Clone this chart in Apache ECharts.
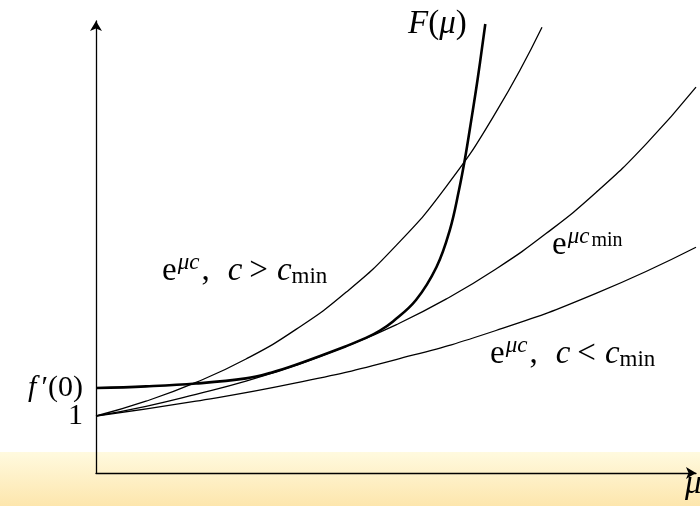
<!DOCTYPE html>
<html>
<head>
<meta charset="utf-8">
<script src="https://cdn.jsdelivr.net/npm/echarts@6/dist/echarts.min.js"></script>
<style>
  html, body { margin: 0; padding: 0; background: #fff; }
  #chart { width: 700px; height: 506px; }
</style>
</head>
<body>
<div id="chart"></div>
<script>
// curves (x = mu, y = value)
const upperX = [0, 0.5, 1, 1.5, 2, 2.5, 3, 3.5, 4, 4.46];
const upperY = [1, 1.26, 1.59, 2.0, 2.52, 3.17, 3.99, 5.02, 6.33, 7.82];
const minX = [0, 0.5, 1, 1.5, 2, 2.5, 3, 3.5, 4, 4.5, 5, 5.5, 6];
const minY = [1, 1.17, 1.38, 1.61, 1.89, 2.22, 2.6, 3.05, 3.58, 4.2, 4.92, 5.77, 6.77];
const lowerX = [0, 1, 2, 3, 4, 5, 6];
const lowerY = [1, 1.26, 1.58, 1.99, 2.5, 3.15, 3.96];
const fX = [0, 0.5, 1, 1.5, 1.75, 2, 2.5, 2.7, 2.84, 2.97, 3.2, 3.405, 3.538, 3.63, 3.691, 3.737, 3.815, 3.893];
const fY = [1.49, 1.52, 1.57, 1.66, 1.76, 1.9, 2.225, 2.37, 2.5, 2.66, 3.035, 3.614, 4.263, 4.965, 5.526, 6.018, 6.895, 7.877];
// y tick labels
const fPrime0 = 1.49;
const oneTick = 1;
const fPrimeLabel = '{i|f}{n|′(0)}';
const oneLabel = '1';

const FONT = "'Liberation Serif', 'DejaVu Serif', serif";

function pairs(xs, ys) {
  return xs.map((x, i) => [x, ys[i]]);
}

const chart = echarts.init(document.getElementById('chart'));

const thin = { color: '#000', width: 1.3 };

const base = { fontFamily: FONT, color: '#000', verticalAlign: 'bottom' };
const mathRich = {
  n: Object.assign({}, base, { fontSize: 33, lineHeight: 38 }),
  i: Object.assign({}, base, { fontSize: 33, lineHeight: 38, fontStyle: 'italic' }),
  op: Object.assign({}, base, { fontSize: 33, lineHeight: 38, padding: [0, 9, 0, 7] }),
  cm: Object.assign({}, base, { fontSize: 33, lineHeight: 38, padding: [0, 18, 0, 0] }),
  sup: Object.assign({}, base, { fontSize: 23, lineHeight: 23, fontStyle: 'italic', padding: [0, 2, 14, 1] }),
  supn: Object.assign({}, base, { fontSize: 20, lineHeight: 20, padding: [0, 0, 11, 0] }),
  sub: Object.assign({}, base, { fontSize: 23, lineHeight: 23 })
};

const tickLabelStyle = {
  hideOverlap: false,
  margin: 13,
  fontFamily: FONT,
  fontSize: 30,
  lineHeight: 24,
  color: '#000',
  rich: {
    i: { fontFamily: FONT, fontSize: 30, lineHeight: 24, fontStyle: 'italic', color: '#000', padding: [0, 5, 0, 0] },
    n: { fontFamily: FONT, fontSize: 30, lineHeight: 24, color: '#000' }
  }
};

chart.setOption({
  animation: false,
  backgroundColor: '#fff',
  grid: { left: 96, right: 4, top: 21, bottom: 33 },
  xAxis: {
    type: 'value',
    min: 0,
    max: 6,
    axisLine: { lineStyle: { color: '#000', width: 1.3 }, symbol: ['none', 'arrow'], symbolSize: [9, 10] },
    axisTick: { show: false },
    axisLabel: { show: false },
    splitLine: { show: false }
  },
  yAxis: [
    {
      type: 'value',
      min: 0,
      max: 7.93,
      axisLine: { show: true, lineStyle: { color: '#000', width: 1.3 }, symbol: ['none', 'arrow'], symbolSize: [9, 10] },
      axisTick: { show: false },
      splitLine: { show: false },
      axisLabel: Object.assign({}, tickLabelStyle, { customValues: [fPrime0], formatter: () => fPrimeLabel })
    },
    {
      type: 'value',
      position: 'left',
      offset: 0,
      min: 0,
      max: 7.93,
      axisLine: { show: false },
      axisTick: { show: false },
      splitLine: { show: false },
      axisLabel: Object.assign({}, tickLabelStyle, { customValues: [oneTick], formatter: () => oneLabel })
    }
  ],
  graphic: [
    {
      type: 'rect',
      z: -10,
      left: 0,
      top: 452,
      shape: { width: 700, height: 54 },
      style: {
        fill: new echarts.graphic.LinearGradient(0, 0, 0, 1, [
          { offset: 0, color: '#fffadf' },
          { offset: 1, color: '#fde6ad' }
        ])
      }
    },
    {
      type: 'text', left: 408, top: 8,
      style: { text: '{i|F}{n|(}{i|μ}{n|)}', rich: mathRich }
    },
    {
      type: 'text', left: 162, top: 251,
      style: { text: '{n|e}{sup|μc}{cm|,}{i|c}{op|>}{i|c}{sub|min}', rich: mathRich }
    },
    {
      type: 'text', left: 552, top: 225,
      style: { text: '{n|e}{sup|μc}{supn|min}', rich: mathRich }
    },
    {
      type: 'text', left: 490, top: 334,
      style: { text: '{n|e}{sup|μc}{cm|,}{i|c}{op|<}{i|c}{sub|min}', rich: mathRich }
    },
    {
      type: 'text', left: 685, top: 468,
      style: { text: '{i|μ}', rich: mathRich }
    }
  ],
  series: [
    { type: 'line', data: pairs(upperX, upperY), smooth: true, showSymbol: false, lineStyle: thin },
    { type: 'line', data: pairs(minX, minY), smooth: true, showSymbol: false, lineStyle: thin },
    { type: 'line', data: pairs(lowerX, lowerY), smooth: true, showSymbol: false, lineStyle: thin },
    { type: 'line', data: pairs(fX, fY), smooth: 0.4, showSymbol: false, lineStyle: { color: '#000', width: 2.6 } }
  ]
});
</script>
</body>
</html>
